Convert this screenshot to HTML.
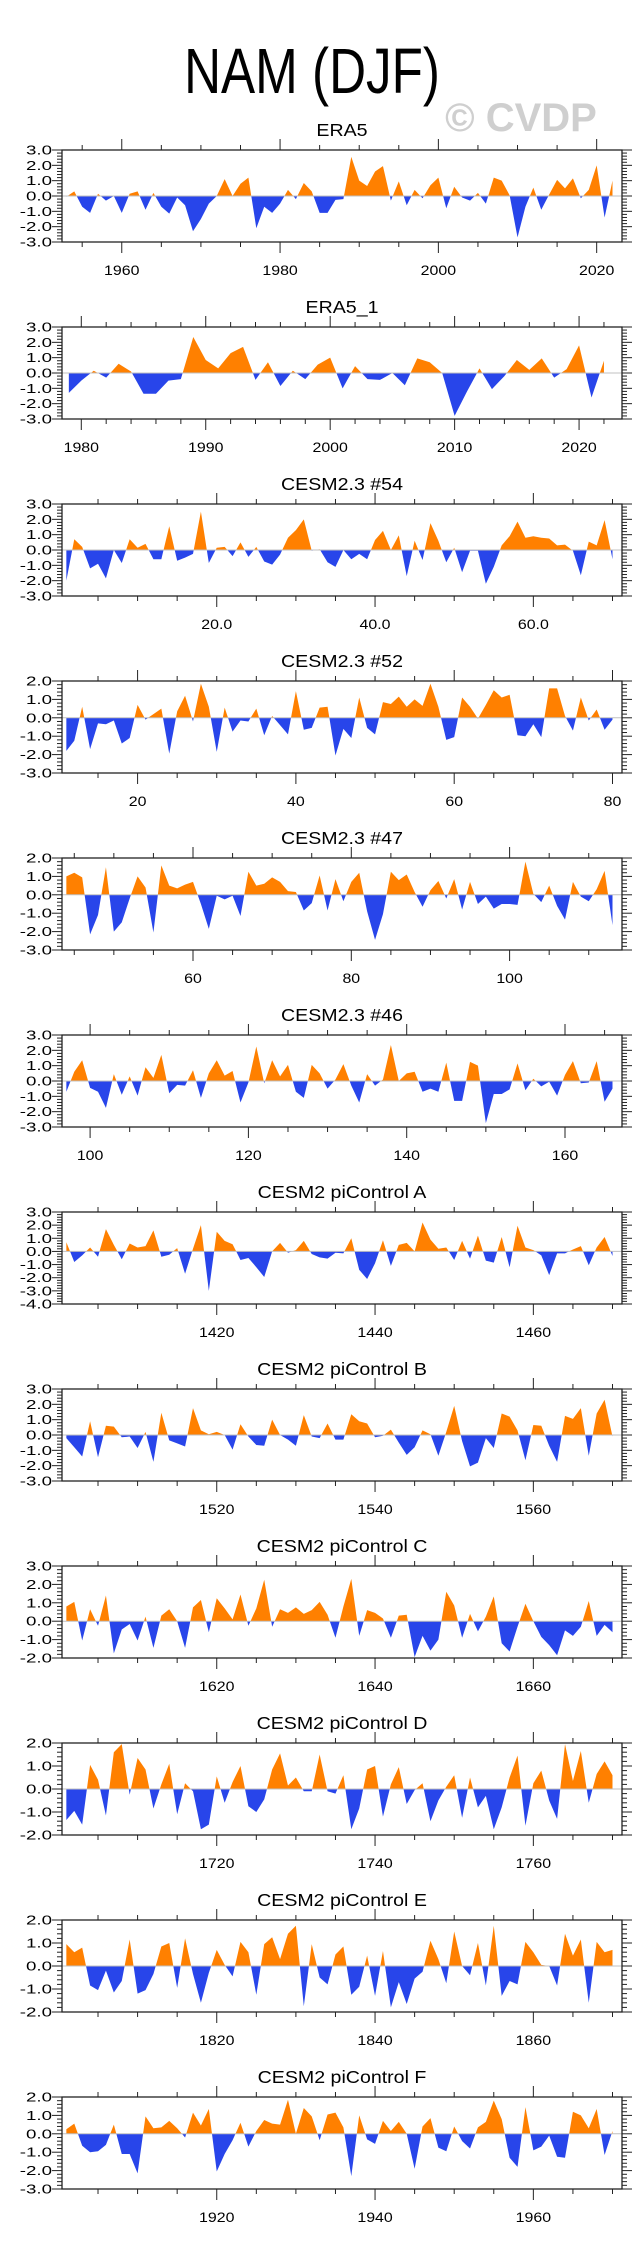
<!DOCTYPE html>
<html>
<head>
<meta charset="utf-8">
<style>
  html,body{margin:0;padding:0;background:#fff;}
  svg{display:block;font-family:"Liberation Sans",sans-serif;}
</style>
</head>
<body>
<svg id="chart" width="641" height="2253" viewBox="0 0 641 2253" xmlns="http://www.w3.org/2000/svg">
  <rect x="0" y="0" width="641" height="2253" fill="#fff"/>
  <text transform="translate(312,93) scale(0.8,1)" font-size="64" text-anchor="middle" fill="#000">NAM (DJF)</text>
  <text x="521" y="131" font-size="40" font-weight="bold" text-anchor="middle" fill="#cfcfcf">© CVDP</text>
</svg>
<script>
const panelTitles = ["ERA5","ERA5_1","CESM2.3 #54","CESM2.3 #52","CESM2.3 #47","CESM2.3 #46","CESM2 piControl A","CESM2 piControl B","CESM2 piControl C","CESM2 piControl D","CESM2 piControl E","CESM2 piControl F"];
const startYears = [1953,1979,1,11,44,97,1401,1501,1601,1701,1801,1901];
const yMins = [-3,-3,-3,-3,-3,-3,-4,-3,-2,-2,-2,-3];
const yMaxs = [3,3,3,2,2,3,3,3,3,2,2,2];
const majorSteps = [20,10,20,20,20,20,20,20,20,20,20,20];
const minorSteps = [5,2,5,5,5,5,5,5,5,5,5,5];
const labelDecimals = [0,0,1,0,0,0,0,0,0,0,0,0];

const era5Values = [-0.05,0.3,-0.7,-1.1,0.15,-0.3,0.0,-1.1,0.15,0.3,-0.9,0.2,-0.7,-1.15,-0.1,-0.6,-2.3,-1.5,-0.5,0.0,1.1,0.0,0.8,1.2,-2.1,-0.7,-1.1,-0.5,0.4,-0.2,0.85,0.3,-1.1,-1.1,-0.25,-0.2,2.55,1.0,0.65,1.6,1.95,-0.3,0.95,-0.6,0.4,-0.15,0.7,1.2,-0.8,0.6,-0.1,-0.3,0.2,-0.5,1.2,1.0,0.05,-2.7,-0.7,0.55,-0.9,0.1,1.05,0.5,1.15,-0.15,0.4,2.0,-1.4,1.0];
const era51Values = [-1.3,-0.5,0.15,-0.3,0.6,0.1,-1.35,-1.35,-0.5,-0.4,2.35,0.85,0.3,1.3,1.7,-0.45,0.7,-0.85,0.15,-0.4,0.55,1.0,-1.0,0.45,-0.4,-0.45,0.0,-0.8,0.95,0.7,0.0,-2.8,-1.2,0.3,-1.05,-0.2,0.85,0.2,0.95,-0.3,0.25,1.8,-1.6,0.8];
const cesm54Values = [-2.0,0.7,0.2,-1.2,-0.9,-1.85,0.0,-0.85,0.7,0.15,0.4,-0.6,-0.6,1.55,-0.7,-0.5,-0.25,2.5,-0.85,0.15,0.2,-0.4,0.5,-0.45,0.2,-0.75,-0.95,-0.3,0.8,1.3,2.0,-0.05,0.05,-0.8,-1.1,0.0,-0.6,-0.25,-0.6,0.65,1.25,0.0,0.95,-1.7,0.6,-0.65,1.75,0.6,-0.8,0.15,-1.45,-0.05,-0.05,-2.2,-1.1,0.3,0.9,1.85,0.8,0.9,0.8,0.75,0.3,0.35,-0.05,-1.65,0.55,0.3,1.95,-0.6];
const cesm52Values = [-1.8,-1.25,0.6,-1.7,-0.3,-0.35,-0.15,-1.4,-1.1,0.7,-0.1,0.2,0.5,-1.95,0.35,1.2,-0.2,1.85,0.6,-1.85,0.55,-0.75,-0.15,-0.2,0.5,-0.95,0.1,-0.4,-0.9,1.45,-0.65,-0.55,0.55,0.6,-2.05,-0.6,-1.1,1.1,-0.55,-0.9,0.85,0.75,1.15,0.6,1.0,0.65,1.85,0.6,-1.2,-1.05,1.1,0.6,-0.05,0.7,1.5,1.1,1.25,-0.95,-1.0,-0.35,-1.05,1.6,1.6,0.1,-0.7,1.1,-0.15,0.45,-0.65,-0.1];
const cesm47Values = [1.0,1.2,0.95,-2.15,-1.1,1.5,-2.0,-1.5,-0.2,1.0,0.4,-2.05,1.6,0.5,0.35,0.55,0.7,-0.5,-1.85,-0.05,-0.25,-0.05,-1.15,1.25,0.5,0.6,0.95,0.7,0.2,0.15,-0.85,-0.45,1.05,-0.85,0.85,-0.35,0.7,1.2,-0.9,-2.45,-1.05,1.25,0.8,1.1,0.15,-0.65,0.25,0.75,-0.2,0.85,-0.8,0.7,-0.5,-0.1,-0.75,-0.5,-0.5,-0.55,1.8,0.05,-0.4,0.5,-0.6,-1.35,0.7,-0.1,-0.35,0.3,1.3,-1.65];
const cesm46Values = [-0.7,0.6,1.35,-0.45,-0.7,-1.75,0.45,-0.9,0.3,-0.95,0.9,0.2,1.7,-0.8,-0.25,-0.3,0.7,-1.1,0.5,1.35,0.35,0.65,-1.4,-0.1,2.25,-0.15,1.35,0.3,1.05,-0.7,-1.1,1.05,0.5,-0.5,0.1,1.1,-0.3,-1.4,0.45,-0.3,0.1,2.35,0.0,0.5,0.6,-0.7,-0.5,-0.7,1.2,-1.3,-1.3,1.25,1.0,-2.75,-0.85,-0.85,-0.55,1.15,-0.6,0.15,-0.35,-0.05,-0.95,0.4,1.3,-0.15,-0.1,1.3,-1.35,-0.5];
const piAValues = [0.7,-0.8,-0.3,0.3,-0.4,1.7,0.5,-0.6,0.6,0.3,0.4,1.6,-0.4,-0.25,0.25,-1.7,0.2,2.0,-3.0,1.5,0.8,0.55,-0.65,-0.5,-1.2,-1.95,0.0,0.65,-0.1,0.1,0.8,-0.2,-0.45,-0.55,-0.1,-0.15,1.0,-1.4,-2.1,-0.9,0.85,-1.1,0.5,0.65,0.0,2.2,0.9,0.2,0.3,-0.65,0.8,-0.55,1.2,-0.7,-0.85,1.1,-1.2,1.95,0.3,0.1,-0.3,-1.8,-0.15,-0.15,0.15,0.4,-1.05,0.3,1.1,-0.35];
const piBValues = [-0.2,-0.8,-1.4,0.9,-1.45,0.6,0.55,-0.15,-0.1,-0.85,0.2,-1.75,1.45,-0.35,-0.55,-0.75,1.75,0.3,0.05,0.2,0.0,-0.95,0.7,-0.1,-0.65,-0.7,1.0,0.0,-0.3,-0.7,1.3,-0.1,-0.2,0.75,-0.3,-0.3,1.35,0.9,0.75,-0.15,-0.05,0.35,-0.5,-1.3,-0.8,0.3,0.05,-1.35,0.2,1.9,-0.4,-2.05,-1.8,-0.2,-0.85,1.4,1.2,0.3,-1.65,0.65,0.6,-0.7,-1.75,1.25,1.05,1.75,-1.35,1.4,2.3,-0.1];
const piCValues = [0.8,1.05,-1.05,0.65,-0.25,1.4,-1.75,-0.45,-0.15,-1.05,0.25,-1.45,0.3,0.65,0.0,-1.45,0.75,1.15,-0.6,1.25,0.7,0.1,1.45,-0.25,0.7,2.25,-0.3,0.65,0.45,0.75,0.4,0.6,1.05,0.35,-0.9,0.8,2.3,-0.8,0.6,0.45,0.15,-0.9,0.3,0.35,-1.95,-0.8,-1.6,-1.0,1.6,0.85,-0.9,0.4,-0.55,0.25,1.35,-1.2,-1.65,-0.3,0.95,0.0,-0.85,-1.3,-1.85,-0.5,-0.8,-0.3,1.1,-0.8,-0.2,-0.6];
const piDValues = [-1.35,-0.95,-1.55,1.05,0.4,-1.15,1.6,1.95,-0.25,1.35,0.85,-0.85,0.2,1.1,-1.1,0.25,-0.1,-1.75,-1.55,0.55,-0.6,0.3,1.0,-0.75,-1.0,-0.45,0.85,1.55,0.15,0.5,-0.1,-0.1,1.5,-0.1,-0.2,0.6,-1.75,-0.85,0.85,1.0,-1.2,0.2,0.95,-0.65,-0.05,0.25,-1.4,-0.5,0.1,0.6,-1.25,0.5,-0.8,-0.3,-1.75,-0.8,0.5,1.45,-1.6,0.25,0.8,-0.5,-1.3,1.95,0.35,1.65,-0.6,0.65,1.2,0.6];
const piEValues = [0.95,0.6,0.8,-0.85,-1.05,-0.2,-1.15,-0.65,1.15,-1.2,-1.05,-0.35,0.85,1.0,-0.95,1.2,-0.35,-1.6,-0.3,0.7,0.05,-0.45,1.05,0.6,-1.25,0.95,1.25,0.3,1.4,1.75,-1.75,0.95,-0.5,-0.8,0.5,0.85,-1.25,-0.9,0.45,-1.3,0.65,-1.8,-0.7,-1.65,-0.55,-0.25,1.1,0.3,-0.75,1.5,0.0,-0.4,1.0,-0.85,1.75,-1.3,-0.65,-0.8,1.05,0.6,0.05,0.0,-0.85,1.4,0.45,1.15,-1.6,1.05,0.6,0.7];
const piFValues = [0.25,0.55,-0.65,-1.0,-0.95,-0.6,0.5,-1.1,-1.1,-2.15,0.95,0.3,0.35,0.7,0.3,-0.2,1.15,0.45,1.35,-2.05,-1.1,-0.35,0.6,-0.7,0.15,0.75,0.55,0.5,1.85,0.0,1.4,0.95,-0.35,1.05,1.15,0.35,-2.3,1.0,-0.3,-0.55,0.7,0.15,0.65,0.0,-1.9,0.4,0.85,-0.75,-0.95,0.4,-0.4,-0.8,0.35,0.65,1.8,0.8,-1.3,-1.8,1.45,-0.9,-0.7,-0.1,-1.25,-1.3,1.2,1.0,0.3,1.35,-1.15,0.15];

const seriesList = [era5Values,era51Values,cesm54Values,cesm52Values,cesm47Values,cesm46Values,piAValues,piBValues,piCValues,piDValues,piEValues,piFValues];

const NS = "http://www.w3.org/2000/svg";
const svg = document.getElementById("chart");
const BOX_L = 62, BOX_R = 622, BOX_H = 92, FIRST_TOP = 150, GAP = 177;

function mk(tag, attrs, parent) {
  const e = document.createElementNS(NS, tag);
  for (const k in attrs) e.setAttribute(k, attrs[k]);
  parent.appendChild(e);
  return e;
}
function slug(s){ return s.toLowerCase().replace(/[^a-z0-9]+/g,'-').replace(/^-|-$/g,''); }

seriesList.forEach((vals, p) => {
  const top = FIRST_TOP + GAP * p, bot = top + BOX_H;
  const first = startYears[p], last = first + vals.length - 1;
  const xMin = first - 0.55;
  const xMax = vals.length > 60 ? last + 1.2 : last + 1.45;
  const yMin = yMins[p], yMax = yMaxs[p];
  const xs = v => BOX_L + (v - xMin) / (xMax - xMin) * (BOX_R - BOX_L);
  const ys = v => bot - (v - yMin) / (yMax - yMin) * BOX_H;

  const g = mk("g", {}, svg);
  
  

  const t = mk("text", {transform: "translate(" + ((BOX_L + BOX_R) / 2) + "," + (top - 14) + ") scale(1.12,1)", "font-size": 17.5, "text-anchor": "middle", fill: "#000"}, g);
  
  
  t.textContent = panelTitles[p];

  const pts = [];
  for (let i = 0; i < vals.length; i++) {
    const x0 = first + i, v0 = vals[i];
    pts.push([x0, v0]);
    if (i < vals.length - 1) {
      const v1 = vals[i + 1];
      if ((v0 > 0 && v1 < 0) || (v0 < 0 && v1 > 0)) {
        pts.push([x0 + v0 / (v0 - v1), 0]);
      }
    }
  }
  const y0 = ys(0);
  function poly(sel, color, name) {
    let d = "M" + xs(pts[0][0]).toFixed(2) + "," + y0.toFixed(2);
    pts.forEach(q => { d += " L" + xs(q[0]).toFixed(2) + "," + ys(sel(q[1])).toFixed(2); });
    d += " L" + xs(pts[pts.length - 1][0]).toFixed(2) + "," + y0.toFixed(2) + " Z";
    const path = mk("path", {d: d, fill: color, stroke: "none"}, g);
    
    
  }
  poly(v => Math.max(v, 0), "#ff8000", "positive-area");
  poly(v => Math.min(v, 0), "#2845ea", "negative-area");

  const zl = mk("line", {x1: BOX_L, x2: BOX_R, y1: y0, y2: y0, stroke: "#c0c0c0", "stroke-width": 1}, g);
  
  

  const box = mk("rect", {x: BOX_L, y: top, width: BOX_R - BOX_L, height: BOX_H, fill: "none", stroke: "#222", "stroke-width": 1.3}, g);
  
  

  const yg = mk("g", {stroke: "#222", "stroke-width": 1}, g);
  
  
  const nMinor = Math.round((yMax - yMin) / 0.2);
  for (let k = 0; k <= nMinor; k++) {
    const v = yMin + k * 0.2;
    const yy = ys(v);
    const major = Math.abs(v - Math.round(v)) < 1e-6;
    const len = major ? 10 : 5;
    mk("line", {x1: BOX_L - len, x2: BOX_L, y1: yy, y2: yy}, yg);
    mk("line", {x1: BOX_R, x2: BOX_R + len, y1: yy, y2: yy}, yg);
    if (major) {
      const lb = mk("text", {transform: "translate(" + (BOX_L - 10) + "," + (yy + 4.5) + ") scale(1.5,1)", "font-size": 12.5, "text-anchor": "end", fill: "#000", stroke: "none"}, yg);
      
      
      lb.textContent = Math.round(v).toFixed(1);
    }
  }

  const xg = mk("g", {stroke: "#222", "stroke-width": 1}, g);
  
  
  const ms = minorSteps[p], Ms = majorSteps[p];
  for (let v = Math.ceil(xMin / ms) * ms; v <= xMax; v += ms) {
    const xx = xs(v);
    const major = v % Ms === 0;
    const len = major ? 11 : 5;
    mk("line", {x1: xx, x2: xx, y1: top - len, y2: top}, xg);
    mk("line", {x1: xx, x2: xx, y1: bot, y2: bot + len}, xg);
    if (major) {
      const lb = mk("text", {transform: "translate(" + xx + "," + (bot + 33) + ") scale(1.18,1)", "font-size": 13.5, "text-anchor": "middle", fill: "#000", stroke: "none"}, xg);
      
      
      lb.textContent = labelDecimals[p] ? v.toFixed(1) : String(v);
    }
  }
});
</script>
</body>
</html>
